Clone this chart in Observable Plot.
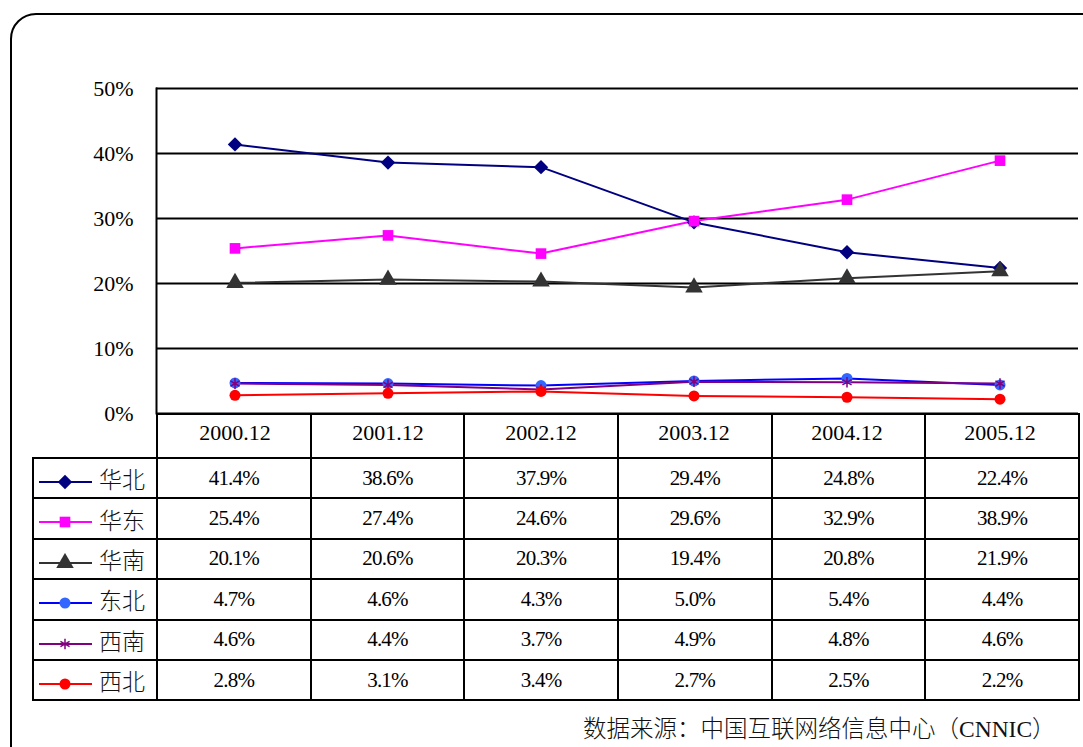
<!DOCTYPE html>
<html><head><meta charset="utf-8">
<script src="https://cdn.jsdelivr.net/npm/d3@7"></script>
<script src="https://cdn.jsdelivr.net/npm/@observablehq/plot@0.6"></script>
<style>
body{margin:0;background:#fff;}
#wrap{position:relative;width:1083px;height:747px;overflow:hidden;font-family:"Liberation Serif","Noto Sans CJK SC",serif;color:#000;}
#frame{position:absolute;left:10px;top:13px;width:1120px;height:800px;border:2px solid #000;border-radius:26px;box-sizing:border-box;}
#chart{position:absolute;left:0;top:0;z-index:2;pointer-events:none;}
table{position:absolute;left:32px;top:413px;border-collapse:collapse;table-layout:fixed;z-index:1;}
td{border:2px solid #000;padding:0;text-align:center;font-size:21px;letter-spacing:-0.8px;white-space:nowrap;}
td.lab{text-align:left;font-family:"Noto Sans CJK SC",sans-serif;font-weight:300;font-size:23px;letter-spacing:0;color:#111;}
td.lab svg{vertical-align:middle;margin-right:5px;}
#caption{position:absolute;left:583px;top:718px;font-size:23.5px;line-height:1;white-space:nowrap;font-weight:300;color:#111;font-family:"Liberation Serif","Noto Sans CJK SC",serif;}
</style></head>
<body>
<div id="wrap">
  <div id="frame"></div>
  <div id="chart"></div>
  <div id="caption"></div>
</div>
<script>
const periods = ["2000.12","2001.12","2002.12","2003.12","2004.12","2005.12"];
const regions = ["华北","华东","华南","东北","西南","西北"];
const huabei = [41.4,38.6,37.9,29.4,24.8,22.4];
const huadong = [25.4,27.4,24.6,29.6,32.9,38.9];
const huanan = [20.1,20.6,20.3,19.4,20.8,21.9];
const dongbei = [4.7,4.6,4.3,5.0,5.4,4.4];
const xinan = [4.6,4.4,3.7,4.9,4.8,4.6];
const xibei = [2.8,3.1,3.4,2.7,2.5,2.2];
const yTicks = [0,10,20,30,40,50];
const captionText = "数据来源：中国互联网络信息中心（CNNIC）";

const seriesValues = [huabei,huadong,huanan,dongbei,xinan,xibei];
const lineColors = ["#000080","#FF00FF","#333333","#0000FF","#800080","#FF0000"];
const markFill = ["#000080","#FF00FF","#333333","#3366FF","none","#FF0000"];
const markStroke = ["none","none","none","none","#800080","none"];
const symbols = ["diamond2","square","triangle","circle","asterisk","circle"];
const d3Symbols = [d3.symbolDiamond2,d3.symbolSquare,d3.symbolTriangle,d3.symbolCircle,d3.symbolAsterisk,d3.symbolCircle];
const radii = [6.5,6,6.5,5.5,5,5.5];

const series = regions.map((r,i)=>seriesValues[i].map((v,j)=>({region:r, period:periods[j], value:v})));

const marks = [
  Plot.gridY(yTicks, {stroke:"#000", strokeOpacity:1, strokeWidth:2}),
  Plot.frame({anchor:"left", stroke:"#000", strokeWidth:2}),
  Plot.axisY(yTicks, {tickSize:0, tickPadding:23, tickFormat:d=>d+"%", fontSize:22, label:null}),
  Plot.axisX({tickSize:0, tickPadding:11, fontSize:22, label:null})
];
series.forEach((s,i)=>{
  marks.push(Plot.line(s, {x:"period", y:"value", stroke:lineColors[i], strokeWidth:2}));
});
series.forEach((s,i)=>{
  marks.push(Plot.dot(s, {x:"period", y:"value", symbol:symbols[i], r:radii[i], fill:markFill[i], stroke:markStroke[i], strokeWidth:1.5}));
});

const chart = Plot.plot({
  width:1083, height:458,
  marginTop:88, marginBottom:45, marginLeft:156, marginRight:5,
  style:{background:"transparent", fontFamily:"Liberation Serif", fontSize:"22px", color:"#000", overflow:"visible"},
  x:{type:"band", domain:periods, padding:0, label:null, axis:null},
  y:{domain:[0,50], label:null, axis:null},
  marks
});
document.getElementById("chart").appendChild(chart);

// data table
const table = document.createElement("table");
const colgroup = document.createElement("colgroup");
[124,...periods.map(()=>153.67)].forEach(w=>{const c=document.createElement("col");c.style.width=w+"px";colgroup.appendChild(c);});
table.appendChild(colgroup);
const head = document.createElement("tr");
head.style.height="44px";
const h0 = document.createElement("td"); h0.style.borderLeft="none"; h0.style.borderTop="none"; head.appendChild(h0);
periods.forEach(()=>{head.appendChild(document.createElement("td"));});
table.appendChild(head);
regions.forEach((r,i)=>{
  const tr = document.createElement("tr");
  tr.style.height="40.4px";
  const lab = document.createElement("td"); lab.className="lab";
  const svg = d3.create("svg").attr("width",60).attr("height",20);
  svg.append("line").attr("x1",5).attr("x2",58).attr("y1",10).attr("y2",10).attr("stroke",lineColors[i]).attr("stroke-width",2);
  const size = Math.PI*radii[i]*radii[i];
  svg.append("path").attr("transform","translate(31,10)").attr("d",d3.symbol(d3Symbols[i],size)())
    .attr("fill",markFill[i]).attr("stroke",markStroke[i]).attr("stroke-width",1.5);
  lab.appendChild(svg.node());
  lab.appendChild(document.createTextNode(r));
  tr.appendChild(lab);
  seriesValues[i].forEach(v=>{const td=document.createElement("td"); td.textContent=v.toFixed(1)+"%"; tr.appendChild(td);});
  table.appendChild(tr);
});
document.getElementById("wrap").appendChild(table);
document.getElementById("caption").textContent = captionText;
</script>
</body></html>
